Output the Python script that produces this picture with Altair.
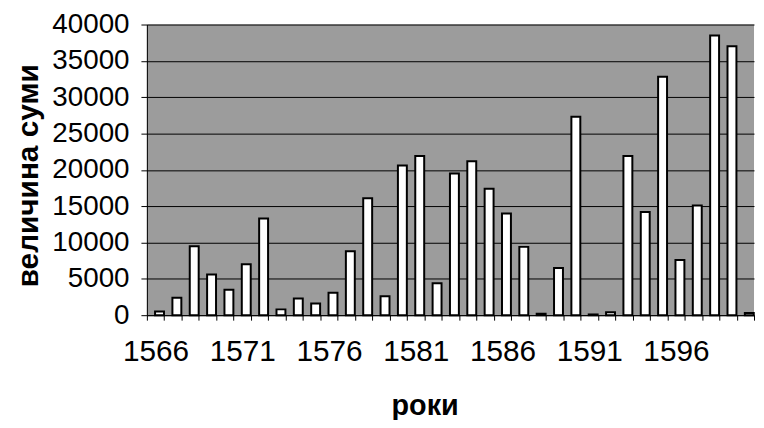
import altair as alt
import pandas as pd

years = list(range(1566, 1601))
values = [500, 2400, 9500, 5600, 3500, 7000, 13300, 800, 2300, 1600,
          3100, 8800, 16100, 2600, 20600, 21900, 4400, 19500, 21200, 17400,
          14000, 9400, 200, 6500, 27300, 100, 400, 21900, 14200, 32800,
          7600, 15100, 38500, 37000, 300]
y_ticks = [0, 5000, 10000, 15000, 20000, 25000, 30000, 35000, 40000]

df = pd.DataFrame({"year": years, "value": values})

chart = alt.Chart(df).mark_bar(
    width=9, xOffset=4, fill="white", stroke="black", strokeWidth=2
).encode(
    x=alt.X("year:O", scale=alt.Scale(paddingInner=0, paddingOuter=0),
            axis=alt.Axis(
                title="роки", labelAngle=0,
                labelExpr="(datum.value - 1566) % 5 == 0 ? datum.label : ''",
                labelOverlap=False, tickBand="extent", tickSize=5,
                tickColor="black", domainColor="black", labelColor="black",
                labelFont="Liberation Sans", labelFontSize=30, labelPadding=17,
                titleFont="Liberation Sans", titleFontSize=29, titleFontWeight="bold",
                titleColor="black", titleX=280, titleY=100,
                titleAlign="center", titleBaseline="alphabetic")),
    y=alt.Y("value:Q", scale=alt.Scale(domain=[0, 40000], nice=False),
            axis=alt.Axis(
                title="величина суми", values=y_ticks, format="d",
                grid=True, gridColor="black", gridWidth=1, gridOpacity=1,
                tickSize=6, tickColor="black", domainColor="black",
                labelColor="black", labelFont="Liberation Sans", labelFontSize=28,
                labelPadding=12,
                titleFont="Liberation Sans", titleFontSize=30, titleFontWeight="bold",
                titleColor="black", titleAngle=270, titleX=-110, titleY=152,
                titleAlign="center", titleBaseline="alphabetic")),
).properties(
    width=612, height=293,
    autosize=alt.AutoSizeParams(type="none"),
    padding={"left": 140, "top": 15, "right": 2, "bottom": 104},
).configure_view(
    fill="#9c9c9c", stroke=None
)

chart.save("out.html", embed_options={"renderer": "svg", "actions": False})
